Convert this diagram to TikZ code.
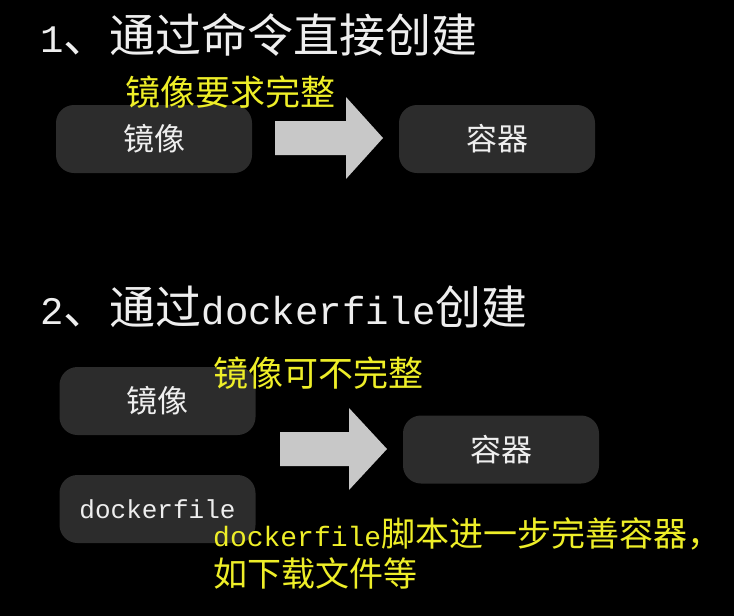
\documentclass[tikz,border=0pt]{standalone}
\usepackage{fontspec}
\newfontfamily\cjk{Noto Sans CJK SC}
\newfontfamily\mono{Liberation Mono}
\definecolor{boxgray}{RGB}{44,44,44}
\definecolor{arrowgray}{RGB}{200,200,200}
\definecolor{noteyellow}{RGB}{238,238,40}
\definecolor{textwhite}{RGB}{238,238,238}
\newcommand{\titlelatin}[1]{{\mono\fontsize{39}{46}\selectfont #1}}
\newcommand{\boxlatin}[1]{{\mono\fontsize{26}{31}\selectfont #1}}
\newcommand{\notelatin}[1]{{\mono\fontsize{28}{40}\selectfont #1}}
\begin{document}
\begin{tikzpicture}[x=1pt,y=-1pt,
box/.style={fill=boxgray,rounded corners=18pt,minimum width=196pt,minimum height=68pt,inner sep=0,text=textwhite,font=\cjk\fontsize{31}{31}\selectfont},
title/.style={anchor=west,inner sep=0,text=textwhite,font=\cjk\fontsize{46}{46}\selectfont},
note/.style={anchor=west,inner sep=0,align=left,text=noteyellow,font=\cjk\fontsize{35}{40}\selectfont},
bigarw/.style={fill=arrowgray}
]
%\draw[help lines](0,0)grid(734,616);
\fill[black](0,0)rectangle(734,616);
\useasboundingbox(0,0)rectangle(734,616);

\node[title]at(40,35)(t1){\titlelatin{1}、通过命令直接创建};
\node[box]at(154,139)(imgA){镜像};
\node[box]at(497,139)(ctrA){容器};
\begin{scope}[shift={(275,138)}]
\fill[bigarw](0,-17)--(71,-17)--(71,-41)--(108,0)--(71,41)--(71,17)--(0,17)--cycle;
\end{scope}
\node[note]at(125,92)(n1){镜像要求完整};

\node[title]at(40,307)(t2){\titlelatin{2}、通过\titlelatin{dockerfile}创建};
\node[box]at(157.5,401)(imgB){镜像};
\node[box]at(157.5,509)(dfB){\boxlatin{dockerfile}};
\node[box]at(501,449.5)(ctrB){容器};
\begin{scope}[shift={(280,449)}]
\fill[bigarw](0,-17)--(69,-17)--(69,-41)--(107,0)--(69,41)--(69,17)--(0,17)--cycle;
\end{scope}
\node[note]at(213,373)(n2){镜像可不完整};
\node[note,font=\cjk\fontsize{34}{40}\selectfont]at(213,553)(n3){\notelatin{dockerfile}脚本进一步完善容器，\\如下载文件等};

\end{tikzpicture}
\end{document}
